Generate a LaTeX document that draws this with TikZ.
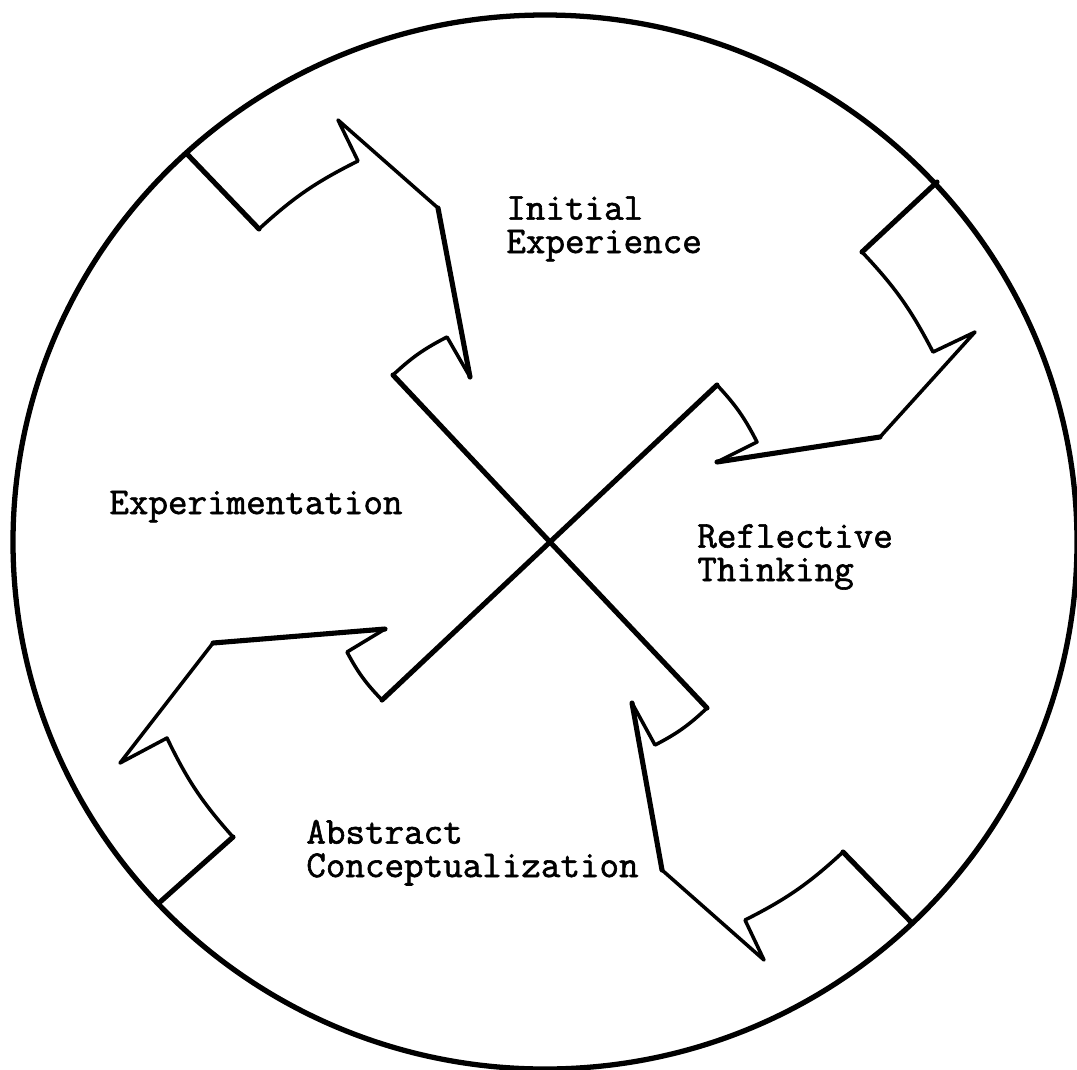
\documentclass[tikz,border=0pt]{standalone}
\usepackage{fontspec}
\newfontfamily\typer{Latin Modern Mono}[FakeBold=1.6]

\begin{document}
\begin{tikzpicture}[
  x=0.02cm, y=-0.02cm,
  rim/.style={line width=3pt},
  heavy/.style={line width=2.9pt, line join=round, line cap=round},
  light/.style={line width=2pt, line join=round, line cap=round},
  lbl/.style={anchor=base west, inner sep=0pt, align=left, font=\fontsize{21.6}{19}\selectfont\typer}
]
\useasboundingbox (0,0) rectangle (1077,1069);

% outer ring
\draw[rim] (545,542) ellipse [x radius=532, y radius=527];

% the cross in the middle
\coordinate (hub) at (550,542);
\coordinate (nw) at (393,375);
\coordinate (ne) at (717,385);
\coordinate (se) at (707,708);
\coordinate (sw) at (382,700);
\draw[heavy] (nw) -- (hub) -- (se);
\draw[heavy] (ne) -- (hub) -- (sw);

% top left arrow
\draw[heavy] (188,155) -- (259,229);
\draw[light] (259,229) to[bend left=8] (358,161) -- (338,120) -- (438,208);
\draw[heavy] (438,208) -- (470,377);
\draw[light] (470,377) -- (447,337) to[bend right=8] (nw);

% top right arrow
\draw[heavy] (937,182) -- (862,252);
\draw[light] (862,252) to[bend left=8] (933,352) -- (975,332) -- (880,437);
\draw[heavy] (880,437) -- (717,462);
\draw[light] (717,462) -- (757,442) to[bend right=8] (ne);

% bottom right arrow
\draw[heavy] (912,923) -- (843,852);
\draw[light] (843,852) to[bend left=8] (745,920) -- (764,960) -- (662,870);
\draw[heavy] (662,870) -- (632,703);
\draw[light] (632,703) -- (655,745) to[bend right=8] (se);

% bottom left arrow
\draw[heavy] (160,902) -- (233,837);
\draw[light] (233,837) to[bend left=8] (167,738) -- (120,763) -- (213,643);
\draw[heavy] (213,643) -- (385,629);
\draw[light] (385,629) -- (347,652) to[bend right=8] (sw);

% labels (base = last line)
\node[lbl] (initial) at (506,253) {Initial\\Experience};
\node[lbl] (reflect) at (697,581) {Reflective\\Thinking};
\node[lbl] (abstract) at (306,877) {Abstract\\Conceptualization};
\node[lbl] (experiment) at (109,514) {Experimentation};
\end{tikzpicture}
\end{document}
